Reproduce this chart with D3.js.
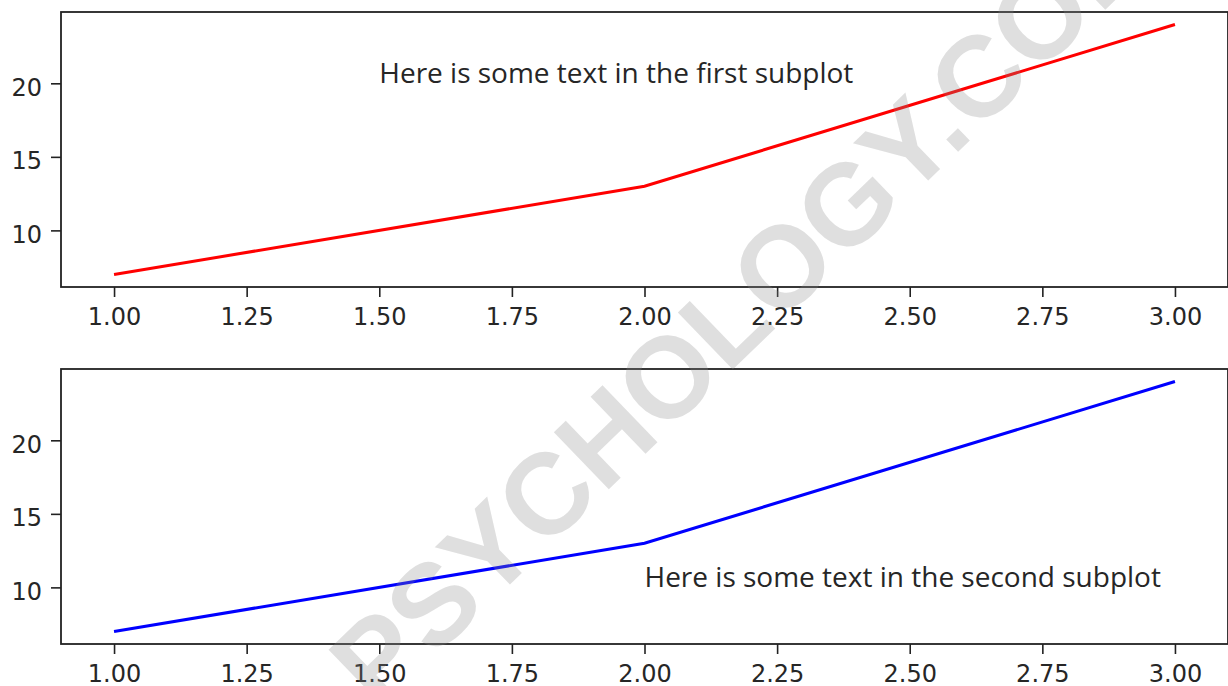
<!DOCTYPE html>
<html>
<head>
<meta charset="utf-8">
<script src="https://cdn.jsdelivr.net/npm/d3@7"></script>
<style>
  body { margin: 0; background: #fff; }
  svg { display: block; font-family: "DejaVu Sans", sans-serif; }
</style>
</head>
<body>
<svg id="chart" width="1228" height="686"></svg>
<script>
const xValues = [1, 2, 3];
const yValues = [7, 13, 24];
const xTicks = [1.0, 1.25, 1.5, 1.75, 2.0, 2.25, 2.5, 2.75, 3.0];
const yTicks = [10, 15, 20];
const panels = [
  { color: "#ff0000", label: "Here is some text in the first subplot", tx: 1.5, ty: 20, top: 12 },
  { color: "#0000ff", label: "Here is some text in the second subplot", tx: 2.0, ty: 10, top: 369 },
];

const svg = d3.select("#chart");
const left = 61;
const right = 1228;
const panelHeight = 275;

const x = d3.scaleLinear().domain([0.9, 3.1]).range([left, right]);

panels.forEach((p) => {
  const y = d3.scaleLinear()
    .domain([6.15, 24.85])
    .range([p.top + panelHeight, p.top]);

  const g = svg.append("g");

  // x axis
  const xAxis = g.append("g")
    .attr("transform", `translate(0,${p.top + panelHeight})`)
    .call(d3.axisBottom(x).tickValues(xTicks).tickFormat(d3.format(".2f")).tickSize(10).tickPadding(11));

  // y axis
  const yAxis = g.append("g")
    .attr("transform", `translate(${left},0)`)
    .call(d3.axisLeft(y).tickValues(yTicks).tickSize(10).tickPadding(9));

  [xAxis, yAxis].forEach((a) => {
    a.select(".domain").remove();
    a.selectAll(".tick line").attr("stroke", "#222").attr("stroke-width", 1.6);
    a.selectAll(".tick text")
      .attr("fill", "#262626")
      .style("font-size", "24px")
      .style("font-family", "DejaVu Sans, sans-serif");
  });
  yAxis.selectAll(".tick text").attr("dy", "0.5em");

  // the line
  const line = d3.line().x((d) => x(d[0])).y((d) => y(d[1]));
  g.append("path")
    .datum(xValues.map((v, i) => [v, yValues[i]]))
    .attr("d", line)
    .attr("fill", "none")
    .attr("stroke", p.color)
    .attr("stroke-width", 3);

  // frame
  g.append("rect")
    .attr("x", left)
    .attr("y", p.top)
    .attr("width", right - left)
    .attr("height", panelHeight)
    .attr("fill", "none")
    .attr("stroke", "#222")
    .attr("stroke-width", 1.8);

  g.append("text")
    .attr("x", x(p.tx))
    .attr("y", y(p.ty))
    .attr("fill", "#262626")
    .style("font-family", "Open Sans, sans-serif")
    .style("font-size", "28px")
    .text(p.label);
});

// watermark
svg.append("text")
  .attr("transform", "translate(378,712) rotate(-44)")
  .attr("fill", "#888")
  .attr("fill-opacity", 0.27)
  .style("font-family", "Liberation Sans, Arial, sans-serif")
  .style("font-size", "115px")
  .style("font-weight", "bold")
  .text("PSYCHOLOGY.COM");
</script>
</body>
</html>
